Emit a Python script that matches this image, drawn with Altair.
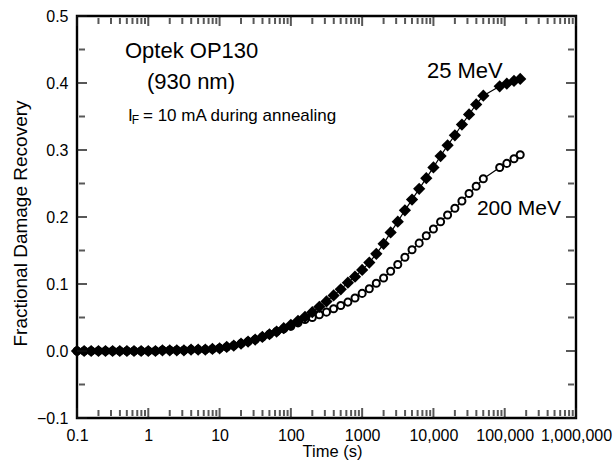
import json
import altair as alt
import pandas as pd

# ---------------- data ----------------
time_s = [0.1, 0.126, 0.158, 0.2, 0.251, 0.316, 0.398, 0.501, 0.631, 0.794,
          1, 1.26, 1.58, 2, 2.51, 3.16, 3.98, 5.01, 6.31, 7.94,
          10, 12.6, 15.8, 20, 25.1, 31.6, 39.8, 50.1, 63.1, 79.4,
          100, 126, 158, 200, 251, 316, 398, 501, 631, 794,
          1000, 1260, 1580, 2000, 2510, 3160, 3980, 5010, 6310, 7940,
          10000, 12600, 15800, 20000, 25100, 31600, 39800, 50100,
          85000, 107000, 135000, 165000]

recovery_25MeV = [0.000, 0.000, 0.000, 0.000, 0.000, 0.000, 0.000, 0.000, 0.000, 0.000,
                  0.000, 0.000, 0.001, 0.001, 0.001, 0.001, 0.002, 0.002, 0.002, 0.003,
                  0.004, 0.006, 0.008, 0.011, 0.014, 0.017, 0.021, 0.025, 0.029, 0.034,
                  0.039, 0.045, 0.051, 0.058, 0.066, 0.074, 0.083, 0.092, 0.102, 0.111,
                  0.121, 0.132, 0.145, 0.160, 0.177, 0.193, 0.210, 0.226, 0.242, 0.258,
                  0.274, 0.291, 0.307, 0.322, 0.338, 0.353, 0.368, 0.381,
                  0.395, 0.399, 0.403, 0.406]

recovery_200MeV = [0.000, 0.000, 0.000, 0.000, 0.000, 0.000, 0.000, 0.000, 0.000, 0.000,
                   0.000, 0.000, 0.001, 0.001, 0.001, 0.001, 0.002, 0.002, 0.002, 0.003,
                   0.004, 0.006, 0.008, 0.011, 0.014, 0.017, 0.021, 0.025, 0.029, 0.033,
                   0.037, 0.042, 0.047, 0.050, 0.054, 0.058, 0.063, 0.068, 0.073, 0.079,
                   0.086, 0.093, 0.101, 0.109, 0.119, 0.129, 0.140, 0.151, 0.161, 0.172,
                   0.182, 0.193, 0.203, 0.213, 0.224, 0.235, 0.246, 0.257,
                   0.274, 0.280, 0.287, 0.293]

x_major = [0.1, 1, 10, 100, 1000, 10000, 100000, 1000000]
x_labels = ["0.1", "1", "10", "100", "1000", "10,000", "100,000", "1,000,000"]
x_minor = [2, 3, 4, 5, 6, 7, 8, 9]
y_major = [-0.1, 0.0, 0.1, 0.2, 0.3, 0.4, 0.5]
y_minor = [-0.05, 0.05, 0.15, 0.25, 0.35, 0.45]

note_text = ["Optek OP130", "(930 nm)", "25 MeV", "200 MeV"]
note_t = [0.471, 0.959, 8110, 40740]
note_v = [0.4373, 0.391, 0.4075, 0.203]
note_size = [22, 22, 22, 21]

cond_text = ["I", "= 10 mA during annealing"]
cond_t = [0.519, 0.843]
cond_v = [0.3433, 0.3433]
sub_text = ["F"]
sub_t = [0.585]
sub_v = [0.3385]

FONT = "Liberation Sans"

df25 = pd.DataFrame({"t": time_s, "v": recovery_25MeV})
df200 = pd.DataFrame({"t": time_s, "v": recovery_200MeV})
notes = pd.DataFrame({"t": note_t, "v": note_v, "text": note_text, "size": note_size})
cond = pd.DataFrame({"t": cond_t, "v": cond_v, "text": cond_text})
sub = pd.DataFrame({"t": sub_t, "v": sub_v, "text": sub_text})

# tick tables: decades and the 2..9 multiples inside each decade
x_tick_rows = [{"tick": d, "len": "major"} for d in x_major]
x_tick_rows += [{"tick": m * d, "len": "minor"} for d in x_major[:-1] for m in x_minor]
y_tick_rows = [{"tick": v, "len": "major"} for v in y_major] + [{"tick": v, "len": "minor"} for v in y_minor]
xticks_df = pd.DataFrame(x_tick_rows)
yticks_df = pd.DataFrame(y_tick_rows)

W, H = 499, 402

xscale = alt.Scale(type="log", domain=[0.1, 1000000], nice=False)
yscale = alt.Scale(domain=[-0.1, 0.5], nice=False, zero=False)

x_label_expr = f"{json.dumps(x_labels)}[indexof({json.dumps(x_major)}, datum.value)]"

xa_labels = alt.Axis(orient="bottom", values=x_major, labelExpr=x_label_expr, ticks=False, tickSize=0,
                     domain=False, grid=False, labelFontSize=16, labelPadding=9, labelFlush=False,
                     labelOverlap=False, labelColor="black", labelFont=FONT,
                     title="Time (s)", titleFont=FONT, titleFontSize=16.5, titleFontWeight="normal",
                     titleColor="black", titleX=255, titleY=38, titleBaseline="alphabetic")
ya_labels = alt.Axis(orient="left", values=y_major, format=".1f", ticks=False, tickSize=0,
                     domain=False, grid=False, labelFontSize=16, labelPadding=9, labelColor="black",
                     labelFont=FONT, title="Fractional Damage Recovery", titleFont=FONT,
                     titleFontSize=19, titleFontWeight="normal", titleColor="black",
                     titleX=-57, titleY=207, titleBaseline="middle", titleAngle=270)

# inward tick marks, placed through the shared scales from the tick tables
xtick_bottom = alt.Chart(xticks_df).mark_tick(color="#111111", thickness=2, orient="vertical").encode(
    x=alt.X("tick:Q", scale=xscale, axis=None),
    y=alt.value(H - 5),
    size=alt.Size("len:N", scale=alt.Scale(domain=["major", "minor"], range=[10, 6]), legend=None),
)
xtick_top = alt.Chart(xticks_df).mark_tick(color="#111111", thickness=2, orient="vertical").encode(
    x=alt.X("tick:Q", scale=xscale, axis=None),
    y=alt.value(5),
    size=alt.Size("len:N", scale=alt.Scale(domain=["major", "minor"], range=[10, 6]), legend=None),
)
ytick_left = alt.Chart(yticks_df).mark_tick(color="#111111", thickness=2, orient="horizontal").encode(
    y=alt.Y("tick:Q", scale=yscale, axis=None),
    x=alt.value(5),
    size=alt.Size("len:N", scale=alt.Scale(domain=["major", "minor"], range=[10, 6]), legend=None),
)
ytick_right = alt.Chart(yticks_df).mark_tick(color="#111111", thickness=2, orient="horizontal").encode(
    y=alt.Y("tick:Q", scale=yscale, axis=None),
    x=alt.value(W - 5),
    size=alt.Size("len:N", scale=alt.Scale(domain=["major", "minor"], range=[10, 6]), legend=None),
)

line200 = alt.Chart(df200).mark_line(color="black", strokeWidth=1.2).encode(
    x=alt.X("t:Q", scale=xscale, axis=xa_labels),
    y=alt.Y("v:Q", scale=yscale, axis=ya_labels),
)
pts200 = alt.Chart(df200).mark_point(shape="circle", filled=True, fill="white", stroke="black",
                                     strokeWidth=2, size=50, opacity=1).encode(
    x=alt.X("t:Q", scale=xscale, axis=None),
    y=alt.Y("v:Q", scale=yscale, axis=None),
)
line25 = alt.Chart(df25).mark_line(color="black", strokeWidth=1.2).encode(
    x=alt.X("t:Q", scale=xscale, axis=None),
    y=alt.Y("v:Q", scale=yscale, axis=None),
)
pts25 = alt.Chart(df25).mark_point(shape="diamond", filled=True, color="black", size=150, opacity=1).encode(
    x=alt.X("t:Q", scale=xscale, axis=None),
    y=alt.Y("v:Q", scale=yscale, axis=None),
)

note_layer = alt.Chart(notes).mark_text(align="left", baseline="alphabetic", font=FONT, color="black").encode(
    x=alt.X("t:Q", scale=xscale, axis=None),
    y=alt.Y("v:Q", scale=yscale, axis=None),
    text="text:N",
    size=alt.Size("size:Q", scale=None, legend=None),
)
cond_layer = alt.Chart(cond).mark_text(align="left", baseline="alphabetic", font=FONT, color="black",
                                        fontSize=17).encode(
    x=alt.X("t:Q", scale=xscale, axis=None),
    y=alt.Y("v:Q", scale=yscale, axis=None),
    text="text:N",
)
sub_layer = alt.Chart(sub).mark_text(align="left", baseline="alphabetic", font=FONT, color="black",
                                      fontSize=12).encode(
    x=alt.X("t:Q", scale=xscale, axis=None),
    y=alt.Y("v:Q", scale=yscale, axis=None),
    text="text:N",
)

chart = alt.layer(line200, pts200, line25, pts25, note_layer, cond_layer, sub_layer,
                  xtick_bottom, xtick_top, ytick_left, ytick_right).resolve_axis(
    x="independent", y="independent"
).resolve_scale(size="independent").properties(
    width=W, height=H,
    padding={"left": 77, "top": 16, "right": 40, "bottom": 54},
    autosize=alt.AutoSizeParams(type="none"),
    background="white",
).configure_view(stroke="black", strokeWidth=2.4)

chart.save("out.html", embed_options={"renderer": "svg", "actions": False})
